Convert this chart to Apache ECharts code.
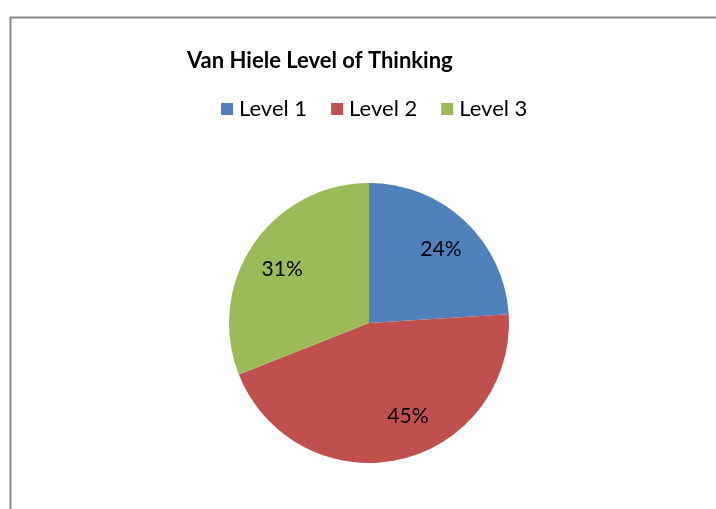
<!DOCTYPE html>
<html>
<head>
<meta charset="utf-8">
<script src="https://cdn.jsdelivr.net/npm/echarts@6/dist/echarts.min.js"></script>
<style>
html,body{margin:0;padding:0;background:#fff;}
#c{width:716px;height:509px;}
</style>
</head>
<body>
<div id="c"></div>
<script>
var categories = ['Level 1', 'Level 2', 'Level 3'];
var values = [24, 45, 31];
var colors = ['#4F81BD', '#C0504D', '#9BBB59'];

var chart = echarts.init(document.getElementById('c'), null, {renderer: 'canvas'});
var font = 'Lato, "Open Sans", sans-serif';
var labelOffsets = [[0, 3], [16, -9], [0, 5]];
var data = categories.map(function (n, i) { return {name: n, value: values[i], itemStyle: {color: colors[i]}}; });
chart.setOption({
  animation: false,
  backgroundColor: '#fff',
  graphic: [{
    type: 'rect', left: 8, top: 15, silent: true,
    shape: {width: 760, height: 560},
    style: {fill: 'none', stroke: '#888888', lineWidth: 2}
  }],
  title: {
    text: 'Van Hiele Level of Thinking',
    left: 182, top: 45,
    textStyle: {fontFamily: font, fontWeight: 'bold', fontSize: 22, color: '#000'}
  },
  legend: {
    data: categories,
    left: 216, top: 93,
    itemWidth: 12, itemHeight: 12, itemGap: 24,
    icon: 'rect',
    textStyle: {fontFamily: font, fontSize: 22, color: '#000', padding: [0, 0, 0, 1]}
  },
  series: [{
    type: 'pie',
    center: [369, 323],
    radius: [0, 140],
    startAngle: 90,
    clockwise: true,
    silent: true,
    label: {show: false},
    labelLine: {show: false},
    data: data
  }, {
    type: 'pie',
    center: [369, 323],
    radius: [64, 140],
    startAngle: 90,
    clockwise: true,
    silent: true,
    itemStyle: {color: 'transparent', borderWidth: 0},
    label: {
      show: true, position: 'inside',
      formatter: function (p) { return p.value + '%'; },
      fontFamily: font, fontSize: 21, color: '#000'
    },
    labelLine: {show: false},
    data: categories.map(function (n, i) {
      return {name: n, value: values[i], itemStyle: {color: 'rgba(0,0,0,0)'}, label: {offset: labelOffsets[i]}};
    })
  }]
});
</script>
</body>
</html>
